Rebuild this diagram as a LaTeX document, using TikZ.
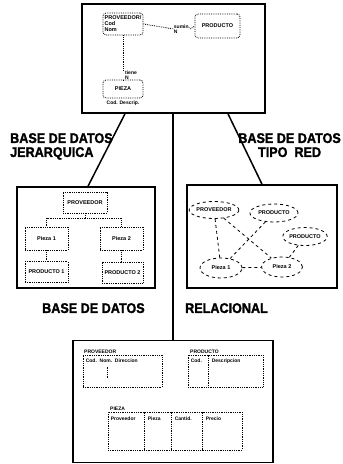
\documentclass[tikz,border=0pt]{standalone}
\usepackage{fontspec}
\setmainfont{Liberation Sans}
\newfontfamily\heavy{Liberation Sans}[BoldFeatures={FakeBold=1.5,FakeStretch=0.9}]
\usetikzlibrary{shapes.geometric,calc}
\tikzset{
  frame/.style={draw, line width=1.6pt, inner sep=0pt},
  conn/.style={line width=1.5pt},
  ent/.style={draw, densely dotted, line width=.8pt, rounded corners=3pt, inner sep=1pt,
              font=\fontsize{5.5}{6}\selectfont\bfseries, align=left},
  tab/.style={draw, densely dotted, line width=.8pt, inner sep=0pt},
  oval/.style={ellipse, draw, dashed, line width=.8pt, inner sep=0pt,
               font=\fontsize{5.5}{6}\selectfont\bfseries},
  link/.style={densely dotted, line width=.8pt},
  nlink/.style={dashed, line width=.8pt},
  tiny/.style={font=\fontsize{5}{5.5}\selectfont\bfseries, inner sep=0pt},
  title/.style={font=\heavy\fontsize{14}{14}\selectfont\bfseries, inner sep=0pt}
}
\begin{document}
\begin{tikzpicture}[x=1pt,y=-1pt]
\useasboundingbox (0,0) rectangle (343,464);

% ---- the four frames ----
\node[frame, minimum width=183pt, minimum height=109pt] (top) at (173.5,58.5) {};
\node[frame, minimum width=138pt, minimum height=101pt] (hier) at (86,237.5) {};
\node[frame, minimum width=150pt, minimum height=103pt] (net) at (262,236.5) {};
\node[frame, minimum width=200pt, minimum height=122pt] (rel) at (173,401.5) {};

% ---- connectors between frames ----
\draw[conn] ([xshift=-48.5pt]top.south) -- ([xshift=2pt]hier.north);
\draw[conn] ([xshift=54.5pt]top.south) -- (net.north);
\draw[conn] ([xshift=-0.5pt]top.south) -- (rel.north);

% ---- titles ----
\node[title, anchor=north west, align=left] (tjer) at (10,133) {BASE DE DATOS\\JERARQUICA};
\node[title, anchor=north east, align=center] (tred) at (341,133) {BASE DE DATOS\\TIPO\ \ RED};
\node[title, anchor=north west] (tbase) at (42,303) {BASE DE DATOS};
\node[title, anchor=north west] (trel) at (185,303) {RELACIONAL};

% ---- entity model in the top frame ----
\node[ent, minimum width=40pt, minimum height=22pt] (eprov) at (123,24) {PROVEEDOR/\\Cod\\Nom};
\node[ent, minimum width=45pt, minimum height=24pt] (eprod) at (217.5,26) {PRODUCTO};
\node[ent, minimum width=40pt, minimum height=18pt] (epiez) at (123,89) {PIEZA};
\node[tiny, align=left] (lsum) at (182,29) {sumin.\\N};
\node[tiny, align=left] (lten) at (131,75) {tiene\\N};
\node[tiny] (lcod) at (123,103) {Cod. Descrip.};
\draw[link] (eprov.east) -- (lsum.west);
\draw[link] (lsum.east) -- (eprod.west);
\draw[link] (eprov.south) -- (lten.north -| eprov.south);
\draw[link] (lten.south -| epiez.north) -- (epiez.north);

% ---- hierarchical model ----
\node[ent, rounded corners=0pt, minimum width=44pt, minimum height=21pt] (h0) at (85,202.5) {PROVEEDOR};
\node[ent, rounded corners=0pt, minimum width=43pt, minimum height=23pt] (h1) at (46.5,238.5) {Pieza 1};
\node[ent, rounded corners=0pt, minimum width=43pt, minimum height=23pt] (h2) at (121.5,238.5) {Pieza 2};
\node[ent, rounded corners=0pt, minimum width=43pt, minimum height=21pt] (h3) at (46.5,272) {PRODUCTO 1};
\node[ent, rounded corners=0pt, minimum width=41pt, minimum height=21pt] (h4) at (122.5,272.5) {PRODUCTO 2};
\draw[link] (h0.south) -- ++(0,5) -| (h1.north);
\draw[link] (h0.south) -- ++(0,5) -| (h2.north);
\draw[link] (h1.south) -- (h3.north -| h1.south);
\draw[link] (h2.south) -- (h4.north -| h2.south);

% ---- network model ----
\node[oval, minimum width=42pt, minimum height=17pt] (n1) at (214,210) {PROVEEDOR};
\node[oval, minimum width=48pt, minimum height=18pt] (n2) at (274,213) {PRODUCTO};
\node[oval, minimum width=44pt, minimum height=18pt] (n3) at (305,236.5) {PRODUCTO};
\node[oval, minimum width=42pt, minimum height=20pt] (n4) at (221,268) {Pieza 1};
\node[oval, minimum width=41pt, minimum height=20pt] (n5) at (282,267) {Pieza 2};
\draw[nlink] (n1) -- (n4);
\draw[nlink] (n1) -- (n5);
\draw[nlink] (n2) -- (n4);
\draw[nlink] (n3) -- (n5);
\draw[nlink] (n4) -- (n5);

% ---- relational model ----
\node[tiny, anchor=south west] (r1l) at (84,354) {PROVEEDOR};
\node[tab, minimum width=79pt, minimum height=32pt] (r1) at (122.5,371) {};
\node[tiny, anchor=north west] (r1h) at ([xshift=3pt,yshift=-4pt]r1.north west) {Cod.\ \ Nom.\ \ Direccion};
\draw[link] ([xshift=25pt,yshift=-12pt]r1.north west) -- ([xshift=25pt,yshift=-24pt]r1.north west);

\node[tiny, anchor=south west] (r2l) at (190,354) {PRODUCTO};
\node[tab, minimum width=75pt, minimum height=32pt] (r2) at (225.5,371) {};
\draw[link] ([xshift=21pt]r2.north west) -- ([xshift=21pt]r2.south west);
\node[tiny, anchor=north west] (r2a) at ([xshift=3pt,yshift=-4pt]r2.north west) {Cod.};
\node[tiny, anchor=north west] (r2b) at ([xshift=24pt,yshift=-4pt]r2.north west) {Descripcion};

\node[tiny, anchor=south west] (r3l) at (110,411) {PIEZA};
\node[tab, minimum width=134pt, minimum height=38pt] (r3) at (175,431) {};
\draw[link] ([xshift=37pt]r3.north west) -- ([xshift=37pt]r3.south west);
\draw[link] ([xshift=64pt]r3.north west) -- ([xshift=64pt]r3.south west);
\draw[link] ([xshift=95pt]r3.north west) -- ([xshift=95pt]r3.south west);
\node[tiny, anchor=north west] (c1) at ([xshift=3pt,yshift=-5pt]r3.north west) {Proveedor};
\node[tiny, anchor=north west] (c2) at ([xshift=40pt,yshift=-5pt]r3.north west) {Pieza};
\node[tiny, anchor=north west] (c3) at ([xshift=67pt,yshift=-5pt]r3.north west) {Cantid.};
\node[tiny, anchor=north west] (c4) at ([xshift=98pt,yshift=-5pt]r3.north west) {Precio};
\end{tikzpicture}
\end{document}
